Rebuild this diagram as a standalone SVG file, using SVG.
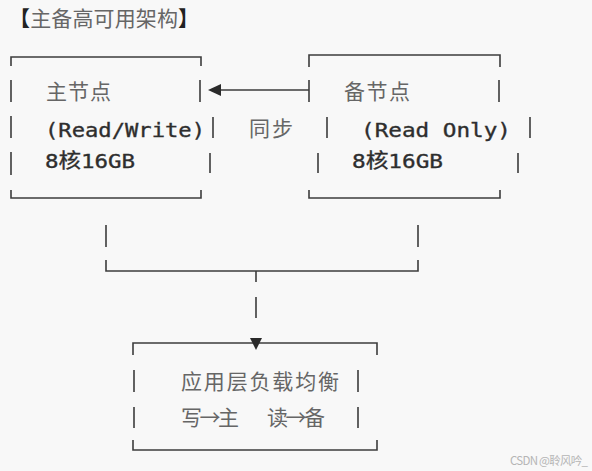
<svg xmlns="http://www.w3.org/2000/svg" width="592" height="471" viewBox="0 0 592 471">
<defs>
<style>
.ln{stroke:#3c3c3c;stroke-width:1.6;fill:none;stroke-linecap:butt}
.cjk{font-family:"Noto Sans CJK SC","Noto Sans",sans-serif;font-size:21px;fill:#666}
.mono{font-family:"DejaVu Sans Mono","Noto Sans CJK SC",monospace;font-size:20px;fill:#2e2e2e;stroke:#2e2e2e;stroke-width:0.35}
.head{fill:#2a2a2a}
.br{font-weight:bold;fill:#222}
</style>
</defs>
<rect width="592" height="471" fill="#f8f8f8"/>
<text x="9" y="26" class="cjk" font-size="20" textLength="190" lengthAdjust="spacing"><tspan class="br">【</tspan>主备高可用架构<tspan class="br">】</tspan></text>

<g id="primary">
<path class="ln" d="M11,66V57H201V66M11,190V198H201V190M11,80V102M11,116V138M11,152V175M200,80V102M213,117V138M210,153V173"/>
<text x="46" y="99" class="cjk" textLength="65" lengthAdjust="spacing">主节点</text>
<text x="45" y="137" class="mono" textLength="160" lengthAdjust="spacingAndGlyphs">(Read/Write)</text>
<text x="45" y="168" class="mono" textLength="90" lengthAdjust="spacingAndGlyphs">8核16GB</text>
</g>

<g id="standby">
<path class="ln" d="M309,67V55H500V67M309,190V198H500V190M309,80V102M327,117V138M318,153V173M499,80V102M530,117V138M518,153V173"/>
<text x="344" y="99" class="cjk" textLength="66" lengthAdjust="spacing">备节点</text>
<text x="361" y="137" class="mono" textLength="150" lengthAdjust="spacingAndGlyphs">(Read Only)</text>
<text x="352" y="168" class="mono" textLength="91" lengthAdjust="spacingAndGlyphs">8核16GB</text>
</g>

<g id="loadbalancer">
<path class="ln" d="M133,355V343H377V355M133,440V450H377V440M134,370V392M134,407V428M358,370V392M358,407V428"/>
<text x="181" y="389" class="cjk" textLength="158" lengthAdjust="spacing">应用层负载均衡</text>
<text x="181" y="425" class="cjk" textLength="58" lengthAdjust="spacing">写→主</text>
<text x="267" y="425" class="cjk" textLength="58" lengthAdjust="spacing">读→备</text>
</g>

<g id="connectors">
<path class="ln" d="M309,90H220"/>
<polygon class="head" points="208,90 221,84 221,96"/>
<text x="249" y="136" class="cjk" textLength="44" lengthAdjust="spacing">同步</text>
<path class="ln" d="M106,225V247M418,225V247M106,260V271H418V260M256,271V282M256,297V318"/>
<polygon class="head" points="250,338 262,338 256,350"/>
</g>

<text x="510" y="465" font-family="Noto Sans CJK SC, sans-serif" font-size="11.5" fill="#b5b5b5" textLength="78" lengthAdjust="spacing">CSDN @聆风吟_</text>
</svg>
